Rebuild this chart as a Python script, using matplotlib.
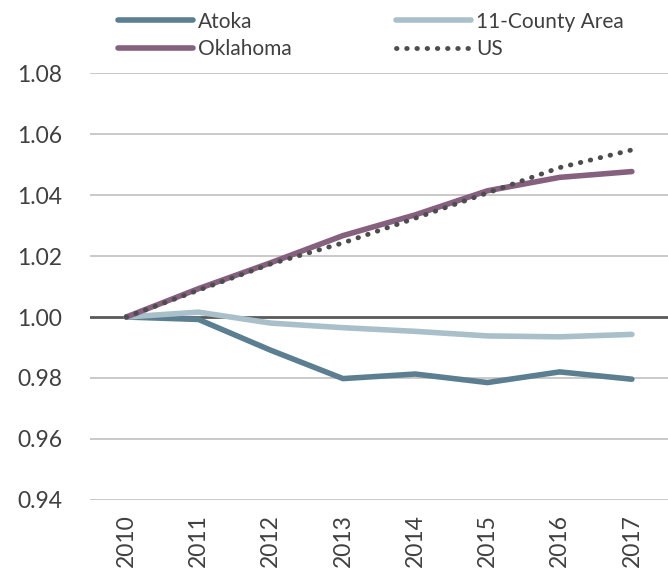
import matplotlib.pyplot as plt
import numpy as np

years = ['2010', '2011', '2012', '2013', '2014', '2015', '2016', '2017']
atoka = [1.000, 0.9992, 0.9891, 0.9798, 0.9813, 0.9785, 0.9820, 0.9796]
county11 = [1.000, 1.0016, 0.9980, 0.9965, 0.9953, 0.9938, 0.9935, 0.9943]
oklahoma = [1.000, 1.0093, 1.0178, 1.0267, 1.0335, 1.0414, 1.0458, 1.0477]
us = [1.000, 1.0088, 1.0174, 1.0243, 1.0324, 1.0407, 1.0490, 1.0548]

plt.rcParams['font.family'] = ['Lato', 'DejaVu Sans']

fig = plt.figure(figsize=(6.68, 5.80), dpi=100)
ax = fig.add_axes([0.135, 0.138, 0.865, 0.736])

x = np.arange(len(years))
l1, = ax.plot(x, atoka, color='#5b7f91', lw=4, solid_capstyle='round', label='Atoka')
l2, = ax.plot(x, county11, color='#a9bfca', lw=4, solid_capstyle='round', label='11-County Area')
l3, = ax.plot(x, oklahoma, color='#86607f', lw=4, solid_capstyle='round', label='Oklahoma')
l4, = ax.plot(x, us, color='#4d4d4d', lw=3.5, ls=(0, (0.1, 2.0)), dash_capstyle='round',
              label='US')

ax.set_xlim(-0.5, len(years) - 0.5)
ax.set_ylim(0.94, 1.08)
yt = np.arange(0.94, 1.0801, 0.02)
ax.set_yticks(yt)
ax.set_yticklabels(['%.2f' % v for v in yt])
ax.set_xticks(x)
ax.set_xticklabels(years, rotation=90)
ax.tick_params(axis='both', length=0, labelsize=16.5, colors='#404040')
ax.tick_params(axis='y', pad=20)
ax.tick_params(axis='x', pad=10)

for v in yt:
    if abs(v - 1.0) > 1e-6:
        ax.axhline(v, color='#c0c0c0', lw=1.2, zorder=0)
ax.axhline(1.0, color='#595959', lw=2, zorder=0.5)

for s in ax.spines.values():
    s.set_visible(False)

# matplotlib fills legend columns first, so reorder for row-wise layout
fig.legend(handles=[l1, l3, l2, l4], loc='upper left', bbox_to_anchor=(0.148, 1.012),
           ncol=2, frameon=False, fontsize=15, handlelength=3.6, handletextpad=0.25,
           columnspacing=5.0, labelspacing=0.35, labelcolor='#404040')

fig.savefig('out.png', dpi=100)
